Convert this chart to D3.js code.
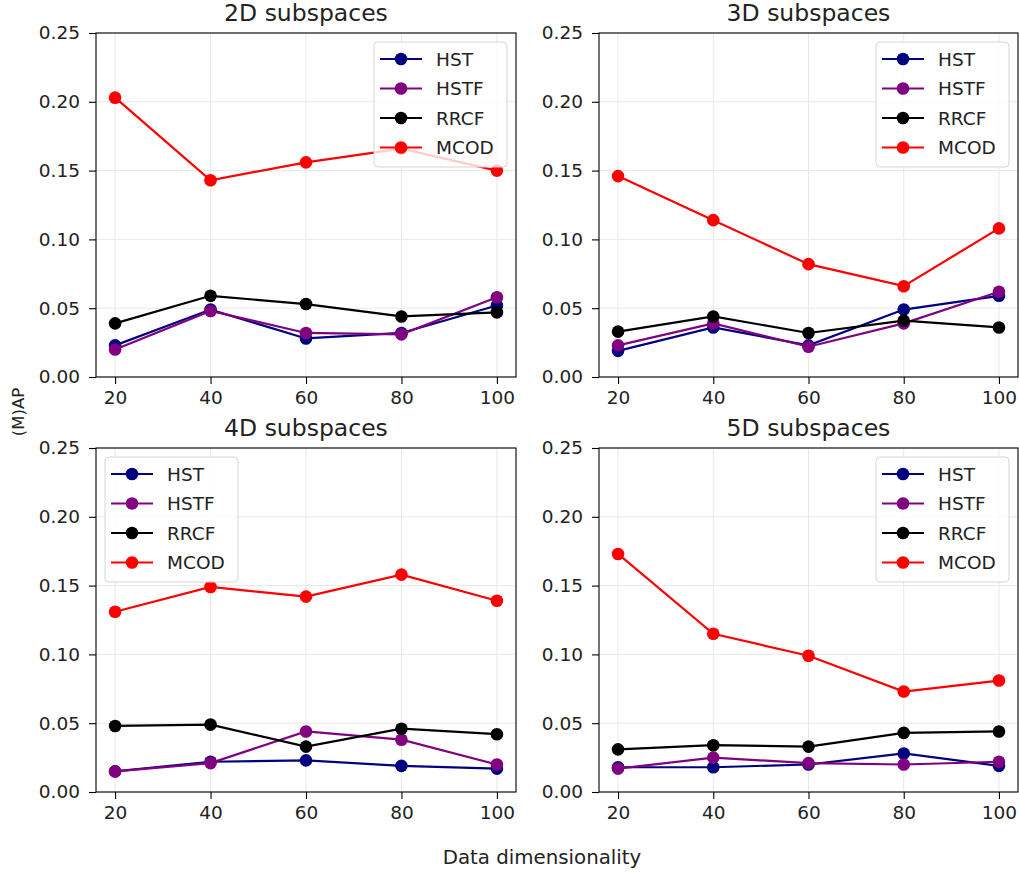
<!DOCTYPE html>
<html>
<head>
<meta charset="utf-8">
<script src="https://cdn.jsdelivr.net/npm/d3@7"></script>
<style>
  body { margin: 0; background: #fff; }
  svg { display: block; font-family: "DejaVu Sans", sans-serif; }
  .tick text { fill: #222; }
</style>
</head>
<body>
<div id="chart"></div>
<script>
// x values shared by every panel
const dims = [20, 40, 60, 80, 100];
const yTicks = [0, 0.05, 0.10, 0.15, 0.20, 0.25];
const methods = ['HST', 'HSTF', 'RRCF', 'MCOD'];
const methodColours = ['#000080', '#800080', '#000000', '#ff0000'];

// (M)AP per method, one array per subspace size
const sub2D_HST  = [0.023, 0.049, 0.028, 0.032, 0.052];
const sub2D_HSTF = [0.020, 0.048, 0.032, 0.031, 0.058];
const sub2D_RRCF = [0.039, 0.059, 0.053, 0.044, 0.047];
const sub2D_MCOD = [0.203, 0.143, 0.156, 0.166, 0.150];

const sub3D_HST  = [0.019, 0.036, 0.023, 0.049, 0.059];
const sub3D_HSTF = [0.023, 0.039, 0.022, 0.039, 0.062];
const sub3D_RRCF = [0.033, 0.044, 0.032, 0.041, 0.036];
const sub3D_MCOD = [0.146, 0.114, 0.082, 0.066, 0.108];

const sub4D_HST  = [0.015, 0.022, 0.023, 0.019, 0.017];
const sub4D_HSTF = [0.015, 0.021, 0.044, 0.038, 0.020];
const sub4D_RRCF = [0.048, 0.049, 0.033, 0.046, 0.042];
const sub4D_MCOD = [0.131, 0.149, 0.142, 0.158, 0.139];

const sub5D_HST  = [0.018, 0.018, 0.020, 0.028, 0.019];
const sub5D_HSTF = [0.017, 0.025, 0.021, 0.020, 0.022];
const sub5D_RRCF = [0.031, 0.034, 0.033, 0.043, 0.044];
const sub5D_MCOD = [0.173, 0.115, 0.099, 0.073, 0.081];

const panelTitles = ['2D subspaces', '3D subspaces', '4D subspaces', '5D subspaces'];
const panelSeries = [
  [sub2D_HST, sub2D_HSTF, sub2D_RRCF, sub2D_MCOD],
  [sub3D_HST, sub3D_HSTF, sub3D_RRCF, sub3D_MCOD],
  [sub4D_HST, sub4D_HSTF, sub4D_RRCF, sub4D_MCOD],
  [sub5D_HST, sub5D_HSTF, sub5D_RRCF, sub5D_MCOD],
];
const legendSide = ['right', 'right', 'left', 'right'];

const width = 1019;
const height = 872;
const tickFont = 18.5;
const markerRad = 6.3;

// plot areas: [left, top, right, bottom]
const boxes = [
  [96, 33, 516, 377],
  [599, 33, 1018, 377],
  [96, 448, 516, 792],
  [599, 448, 1018, 792],
];

const svg = d3.select('#chart')
  .append('svg')
  .attr('width', width)
  .attr('height', height);

function drawPanel(i) {
  const [x0, y0, x1, y1] = boxes[i];
  const w = x1 - x0;
  const h = y1 - y0;

  const g = svg.append('g')
    .attr('transform', `translate(${x0},${y0})`);

  const xScale = d3.scaleLinear().domain([16, 104]).range([0, w]);
  const yScale = d3.scaleLinear().domain([0, 0.25]).range([h, 0]);

  // grid
  g.append('g').selectAll('line')
    .data(dims).enter().append('line')
    .attr('x1', d => xScale(d)).attr('x2', d => xScale(d))
    .attr('y1', 0).attr('y2', h)
    .attr('stroke', '#e8e8e8').attr('stroke-width', 1);
  g.append('g').selectAll('line')
    .data(yTicks).enter().append('line')
    .attr('x1', 0).attr('x2', w)
    .attr('y1', d => yScale(d)).attr('y2', d => yScale(d))
    .attr('stroke', '#e8e8e8').attr('stroke-width', 1);

  // axes
  const xAxis = g.append('g')
    .attr('transform', `translate(0,${h})`)
    .call(d3.axisBottom(xScale).tickValues(dims).tickSize(7).tickPadding(7).tickFormat(d3.format('d')));
  const yAxis = g.append('g')
    .call(d3.axisLeft(yScale).tickValues(yTicks).tickSize(7).tickPadding(9).tickFormat(d3.format('.2f')));
  [xAxis, yAxis].forEach(a => {
    a.select('.domain').remove();
    a.selectAll('.tick line').attr('stroke', '#000').attr('stroke-width', 1.1);
    a.selectAll('.tick text')
      .style('font-family', '"DejaVu Sans", sans-serif')
      .style('font-size', tickFont + 'px');
  });

  // frame
  g.append('rect')
    .attr('width', w).attr('height', h)
    .attr('fill', 'none')
    .attr('stroke', '#000')
    .attr('stroke-width', 1.1);

  // lines + markers
  const line = d3.line()
    .x((d, j) => xScale(dims[j]))
    .y(d => yScale(d));

  panelSeries[i].forEach((vals, k) => {
    const s = g.append('g');
    s.append('path')
      .attr('d', line(vals))
      .attr('fill', 'none')
      .attr('stroke', methodColours[k])
      .attr('stroke-width', 2.2);
    s.selectAll('circle')
      .data(vals).enter().append('circle')
      .attr('cx', (d, j) => xScale(dims[j]))
      .attr('cy', d => yScale(d))
      .attr('r', markerRad)
      .attr('fill', methodColours[k]);
  });

  // title
  g.append('text')
    .attr('x', w / 2)
    .attr('y', -12)
    .attr('text-anchor', 'middle')
    .style('font-size', '23.5px')
    .attr('fill', '#222')
    .text(panelTitles[i]);

  // legend
  const lw = 133, lh = 125, inset = 9;
  const lx = legendSide[i] === 'right' ? w - inset - lw : inset;
  const leg = g.append('g').attr('transform', `translate(${lx},${inset})`);
  leg.append('rect')
    .attr('width', lw).attr('height', lh)
    .attr('rx', 4)
    .attr('fill', '#fff').attr('fill-opacity', 0.8)
    .attr('stroke', '#d6d6d6').attr('stroke-width', 1);

  const rows = leg.selectAll('g.row')
    .data(methods).enter().append('g')
    .attr('class', 'row')
    .attr('transform', (d, k) => `translate(0,${17 + k * 29.5})`);
  rows.append('line')
    .attr('x1', 6).attr('x2', 48)
    .attr('stroke', (d, k) => methodColours[k])
    .attr('stroke-width', 2.2);
  rows.append('circle')
    .attr('cx', 27).attr('r', markerRad)
    .attr('fill', (d, k) => methodColours[k]);
  rows.append('text')
    .attr('x', 62)
    .attr('dy', '0.36em')
    .style('font-size', tickFont + 'px')
    .attr('fill', '#222')
    .text(d => d);
}

d3.range(4).forEach(drawPanel);

// shared labels
svg.append('text')
  .attr('transform', 'translate(24,412) rotate(-90)')
  .attr('text-anchor', 'middle')
  .style('font-size', '16.5px')
  .attr('fill', '#222')
  .text('(M)AP');

svg.append('text')
  .attr('x', 542)
  .attr('y', 864)
  .attr('text-anchor', 'middle')
  .style('font-size', '19.8px')
  .attr('fill', '#222')
  .text('Data dimensionality');
</script>
</body>
</html>
